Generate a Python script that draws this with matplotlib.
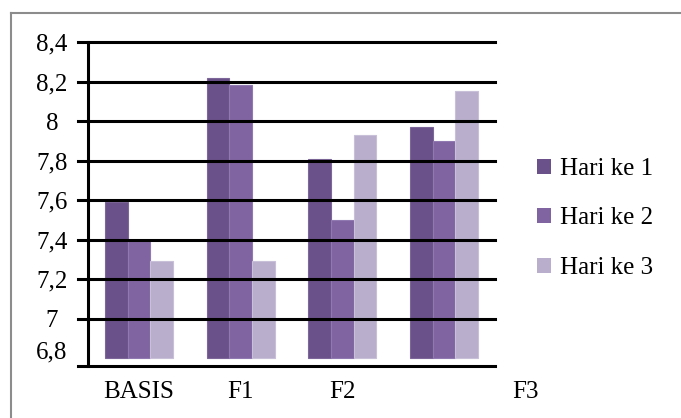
import matplotlib
matplotlib.use('Agg')

import matplotlib.pyplot as plt
import matplotlib.transforms as mtransforms
from matplotlib.lines import Line2D
from matplotlib.patches import Patch
import numpy as np

plt.rcParams['font.family'] = 'serif'
plt.rcParams['font.serif'] = ['Liberation Serif', 'DejaVu Serif']
plt.rcParams['font.size'] = 18

categories = ['BASIS', 'F1', 'F2', 'F3']
series = ['Hari ke 1', 'Hari ke 2', 'Hari ke 3']
hari1 = [7.59, 8.22, 7.81, 7.97]
hari2 = [7.40, 8.18, 7.50, 7.90]
hari3 = [7.29, 7.29, 7.93, 8.15]
yticks = [6.8, 7.0, 7.2, 7.4, 7.6, 7.8, 8.0, 8.2, 8.4]
ytick_labels = ['6,8', '7', '7,2', '7,4', '7,6', '7,8', '8', '8,2', '8,4']

colors = ['#6a5189', '#8064a2', '#b9afcc']
edges = ['#7d6699', '#9079b0', '#c8bfd8']
base = 6.8

W, H = 681, 418
fig = plt.figure(figsize=(W / 100, H / 100), dpi=100)
ax = fig.add_axes([88 / W, 1 - 366 / H, (495 - 88) / W, (366 - 42) / H])

x = np.arange(len(categories))
bw = 0.222
for i, vals in enumerate([hari1, hari2, hari3]):
  ax.bar(x + (i - 1) * bw, np.array(vals) - base, bw, bottom=base,
         color=colors[i], edgecolor=edges[i], linewidth=0.8, zorder=1)

ax.set_xticks(x[:3])
ax.set_xticklabels(categories[:3])
ax.tick_params(axis='x', length=0, pad=11)
# last category label sits off to the right in the original
xlab = mtransforms.blended_transform_factory(ax.transData, ax.transAxes)
ax.annotate(categories[3], xy=(3.8, 0), xycoords=xlab, xytext=(0, -11),
            textcoords='offset points', ha='center', va='top', annotation_clip=False)

ax.set_yticks(yticks[1:])
ax.set_yticklabels(ytick_labels[1:])
ax.tick_params(axis='y', length=0, pad=26)
for lbl in ax.get_yticklabels():
  lbl.set_horizontalalignment('center')
# lowest label sits a bit above its level
ylab = mtransforms.blended_transform_factory(ax.transAxes, ax.transData)
ax.annotate(ytick_labels[0], xy=(0, yticks[0]), xycoords=ylab, xytext=(-36, 6),
            textcoords='offset pixels', ha='center', va='center', annotation_clip=False)

ax.set_xlim(-0.5, 3.5)
ax.set_ylim(6.7595, 8.4)

# horizontal lines, running a little past the y axis
ext = -10 / 407
for v in yticks[1:]:
  ax.axhline(v, xmin=ext, xmax=1, color='k', lw=2.2, clip_on=False, zorder=3)
ax.axhline(6.7595, xmin=ext, xmax=1, color='k', lw=2.2, clip_on=False, zorder=3)

for s in ['top', 'right', 'bottom']:
  ax.spines[s].set_visible(False)
ax.spines['left'].set_linewidth(2.2)
ax.spines['left'].set_zorder(3)

handles = [Patch(facecolor=c, edgecolor='none') for c in colors]
fig.legend(handles, series, loc='upper left', bbox_to_anchor=(517 / W, 1 - 138 / H),
           frameon=False, handlelength=0.56, handleheight=0.56, handletextpad=0.35,
           labelspacing=1.1, borderpad=0.3)

fig.add_artist(Line2D([11 / W, 1], [1 - 13 / H, 1 - 13 / H], color='#8c8c8c', lw=1.5))
fig.add_artist(Line2D([11 / W, 11 / W], [0, 1 - 13 / H], color='#8c8c8c', lw=1.5))

fig.savefig('out.png', dpi=100)
